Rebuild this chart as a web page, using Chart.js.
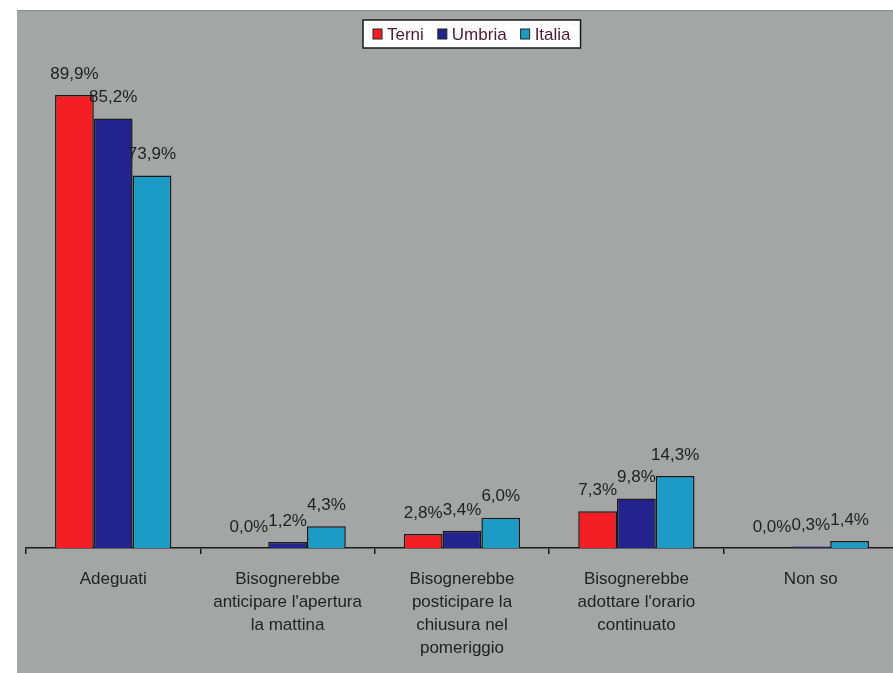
<!DOCTYPE html>
<html>
<head>
<meta charset="utf-8">
<script src="https://cdn.jsdelivr.net/npm/chart.js@4/dist/chart.umd.min.js"></script>
<style>
  html, body { margin: 0; padding: 0; background: #ffffff; overflow: hidden; }
  #wrap { width: 893px; height: 673px; overflow: hidden; position: relative; }
  #chart { position: absolute; left: 0; top: 0; }
</style>
</head>
<body>
<div id="wrap"><canvas id="chart" width="898" height="673"></canvas></div>
<script>
// Categories (answers) and percentages per area
const categories = [
    'Adeguati',
    ['Bisognerebbe', "anticipare l'apertura", 'la mattina'],
    ['Bisognerebbe', 'posticipare la', 'chiusura nel', 'pomeriggio'],
    ['Bisognerebbe', "adottare l'orario", 'continuato'],
    'Non so'
];
const terni  = [89.9, 0.0, 2.8, 7.3, 0.0];
const umbria = [85.2, 1.2, 3.4, 9.8, 0.3];
const italia = [73.9, 4.3, 6.0, 14.3, 1.4];

const seriesNames  = ['Terni', 'Umbria', 'Italia'];
const seriesColors = ['#f41f24', '#22238c', '#1c9bc6'];

const fontFamily = '"Liberation Sans", Arial, Helvetica, sans-serif';

// Format like the Italian labels: 89,9%
function formatPercent(v) {
    return v.toFixed(1).replace('.', ',') + '%';
}

// Paints the white margin and the grey plot backdrop
const backdrop = {
    id: 'backdrop',
    beforeDraw(chart) {
        const ctx = chart.ctx;
        ctx.save();
        ctx.fillStyle = '#ffffff';
        ctx.fillRect(0, 0, chart.width, chart.height);
        ctx.fillStyle = '#a4a6a5';
        ctx.fillRect(17, 10, chart.width - 17, chart.height - 10);
        ctx.fillStyle = '#8d8f8e';
        ctx.fillRect(17, 10, chart.width - 17, 1);
        ctx.restore();
    }
};

// Value labels above each bar
const valueLabels = {
    id: 'valueLabels',
    afterDatasetsDraw(chart) {
        const ctx = chart.ctx;
        ctx.save();
        ctx.font = '17px ' + fontFamily;
        ctx.fillStyle = '#222222';
        ctx.textAlign = 'center';
        ctx.textBaseline = 'middle';
        chart.data.datasets.forEach((ds, i) => {
            const meta = chart.getDatasetMeta(i);
            meta.data.forEach((bar, j) => {
                ctx.fillText(formatPercent(ds.data[j]), bar.x, bar.y - 21);
            });
        });
        ctx.restore();
    }
};

// Boxed legend at the top
const boxLegend = {
    id: 'boxLegend',
    afterDraw(chart) {
        const ctx = chart.ctx;
        const cx = 472, top = 20, h = 28;
        ctx.save();
        ctx.font = '17px ' + fontFamily;
        const sw = 9, gap = 5, itemGap = 14, pad = 10;
        const widths = chart.data.datasets.map(ds => sw + gap + ctx.measureText(ds.label).width);
        const total = widths.reduce((a, b) => a + b, 0) + itemGap * (widths.length - 1) + pad * 2;
        const left = Math.round(cx - total / 2);
        ctx.fillStyle = '#ffffff';
        ctx.fillRect(left, top, total, h);
        ctx.strokeStyle = '#1a1a1a';
        ctx.lineWidth = 1.5;
        ctx.strokeRect(left, top, total, h);
        let x = left + pad;
        chart.data.datasets.forEach((ds, i) => {
            ctx.fillStyle = ds.backgroundColor;
            ctx.fillRect(x, top + 9, sw, 10);
            ctx.strokeStyle = '#222';
            ctx.lineWidth = 1;
            ctx.strokeRect(x, top + 9, sw, 10);
            ctx.fillStyle = '#4a1d33';
            ctx.textAlign = 'left';
            ctx.textBaseline = 'middle';
            ctx.fillText(ds.label, x + sw + gap, top + h / 2 + 1);
            x += widths[i] + itemGap;
        });
        ctx.restore();
    }
};

const values = [terni, umbria, italia];

new Chart(document.getElementById('chart'), {
    type: 'bar',
    data: {
        labels: categories,
        datasets: seriesNames.map((name, i) => ({
            label: name,
            data: values[i],
            backgroundColor: seriesColors[i],
            borderColor: '#1a1a1a',
            borderWidth: 1.5,
            categoryPercentage: 0.667,
            barPercentage: 1.0
        }))
    },
    options: {
        responsive: false,
        animation: false,
        layout: { padding: { left: 26, top: 44, right: 0, bottom: 0 } },
        plugins: {
            legend: { display: false },
            tooltip: { enabled: false }
        },
        scales: {
            x: {
                grid: {
                    display: true,
                    drawOnChartArea: false,
                    drawTicks: true,
                    tickLength: 6,
                    color: '#1a1a1a',
                    lineWidth: 1.5
                },
                border: { display: true, color: '#1a1a1a', width: 1.5 },
                ticks: {
                    color: '#222222',
                    padding: 14,
                    maxRotation: 0,
                    autoSkip: false,
                    font: { family: fontFamily, size: 17, lineHeight: 1.35 }
                },
                afterFit(scale) { scale.height = 125; }
            },
            y: {
                display: false,
                min: 0,
                max: 100
            }
        }
    },
    plugins: [backdrop, valueLabels, boxLegend]
});
</script>
</body>
</html>
